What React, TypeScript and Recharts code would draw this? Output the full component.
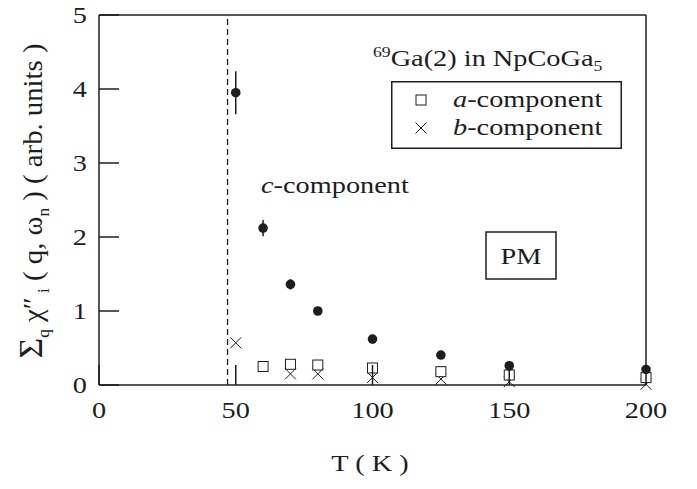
import React from 'react';
import {
  ScatterChart,
  Scatter,
  XAxis,
  YAxis,
  ErrorBar,
  ReferenceLine,
  Legend,
} from 'recharts';

// temperatures (K) and summed dynamical susceptibility per component
const cTemps = [50, 60, 70, 80, 100, 125, 150, 200];
const cValues = [3.95, 2.12, 1.36, 1.0, 0.62, 0.405, 0.26, 0.21];
const cErrors = [0.29, 0.11, 0.07, 0.04, 0.03, 0.02, 0.02, 0.02];

const aTemps = [60, 70, 80, 100, 125, 150, 200];
const aValues = [0.25, 0.28, 0.27, 0.23, 0.18, 0.135, 0.1];

const bTemps = [50, 70, 80, 100, 125, 150, 200];
const bValues = [0.57, 0.15, 0.15, 0.1, 0.08, 0.045, 0.01];

const xTicks = [0, 50, 100, 150, 200];
const yTicks = [0, 1, 2, 3, 4, 5];
const transitionT = 47;

const W = 697;
const H = 489;
const FONT = '"Liberation Serif", "Times New Roman", serif';
const INK = '#1e1e1e';
const STRETCH = 1.18;

const cData = cTemps.map((t, i) => ({ T: t, v: cValues[i], err: cErrors[i] }));
const aData = aTemps.map((t, i) => ({ T: t, v: aValues[i] }));
const bData = bTemps.map((t, i) => ({ T: t, v: bValues[i] }));

// text drawn slightly wide, like the rest of the figure
function SText({ x, y, anchor = 'start', size = 24, children }: any) {
  return (
    <text
      transform={`translate(${x} ${y}) scale(${STRETCH} 1)`}
      textAnchor={anchor}
      fontSize={size}
      fontFamily={FONT}
      fill={INK}
    >
      {children}
    </text>
  );
}

const Dot = (p: any) => <circle cx={p.cx} cy={p.cy} r={4.8} fill={INK} />;
const Square = (p: any) => (
  <rect x={p.cx - 5} y={p.cy - 5} width={10} height={10} fill="#fff" stroke={INK} strokeWidth={1} />
);
const Cross = (p: any) => (
  <path
    d={`M${p.cx - 5.5},${p.cy - 5.5}L${p.cx + 5.5},${p.cy + 5.5}M${p.cx - 5.5},${p.cy + 5.5}L${p.cx + 5.5},${p.cy - 5.5}`}
    stroke={INK}
    strokeWidth={1}
    fill="none"
  />
);

const TICK_LEN = 20;

const BottomTick = (p: any) => (
  <g>
    <line x1={p.x} y1={p.y} x2={p.x} y2={p.y - TICK_LEN} stroke={INK} strokeWidth={1.5} />
    <SText x={p.x} y={p.y + 33} anchor="middle">{p.payload.value}</SText>
  </g>
);
const TopTick = (p: any) => (
  <line x1={p.x} y1={p.y} x2={p.x} y2={p.y + TICK_LEN} stroke={INK} strokeWidth={1.5} />
);
const LeftTick = (p: any) => (
  <g>
    <line x1={p.x} y1={p.y} x2={p.x + TICK_LEN} y2={p.y} stroke={INK} strokeWidth={1.5} />
    <SText x={p.x - 12} y={p.y + 8} anchor="end">{p.payload.value}</SText>
  </g>
);
const RightTick = (p: any) => (
  <line x1={p.x} y1={p.y} x2={p.x - TICK_LEN} y2={p.y} stroke={INK} strokeWidth={1.5} />
);

function LegendBox({ payload }: any) {
  const rows = (payload || []).filter((e: any) => e.value !== 'c');
  return (
    <svg width={231} height={68} style={{ display: 'block' }}>
      <rect x={0.75} y={0.75} width={229.5} height={66.5} fill="#fff" stroke={INK} strokeWidth={1.5} />
      {rows.map((e: any, i: number) => {
        const cy = 19 + i * 28;
        const isA = e.value === 'a';
        return (
          <g key={e.value}>
            {isA ? <Square cx={30} cy={cy} /> : <Cross cx={30} cy={cy} />}
            <SText x={62} y={cy + 7}>
              <tspan fontStyle="italic">{e.value}</tspan>-component
            </SText>
          </g>
        );
      })}
    </svg>
  );
}

const axisLine = { stroke: INK, strokeWidth: 1.5 };

export default function App() {
  return (
    <div style={{ position: 'absolute', left: 0, top: 0, width: W, height: H, background: '#fff' }}>
      <ScatterChart width={W} height={H} margin={{ top: 14, right: 50, bottom: 103, left: 98 }}>
        <XAxis
          type="number"
          dataKey="T"
          domain={[0, 200]}
          ticks={xTicks}
          height={1}
          tickSize={0}
          tickMargin={0}
          tickLine={false}
          tick={BottomTick}
          axisLine={axisLine}
        />
        <XAxis
          xAxisId="top"
          orientation="top"
          type="number"
          dataKey="T"
          domain={[0, 200]}
          ticks={xTicks}
          height={1}
          tickSize={0}
          tickMargin={0}
          tickLine={false}
          tick={TopTick}
          axisLine={axisLine}
        />
        <YAxis
          type="number"
          dataKey="v"
          domain={[0, 5]}
          ticks={yTicks}
          width={1}
          tickSize={0}
          tickMargin={0}
          tickLine={false}
          tick={LeftTick}
          axisLine={axisLine}
        />
        <YAxis
          yAxisId="right"
          orientation="right"
          type="number"
          dataKey="v"
          domain={[0, 5]}
          ticks={yTicks}
          width={1}
          tickSize={0}
          tickMargin={0}
          tickLine={false}
          tick={RightTick}
          axisLine={axisLine}
        />
        <ReferenceLine x={transitionT} stroke={INK} strokeWidth={1.3} strokeDasharray="6 4" />
        <Scatter name="b" data={bData} shape={Cross} isAnimationActive={false} />
        <Scatter name="a" data={aData} shape={Square} isAnimationActive={false} />
        <Scatter name="c" data={cData} shape={Dot} legendType="none" isAnimationActive={false}>
          <ErrorBar dataKey="err" direction="y" width={0} stroke={INK} strokeWidth={1.5} />
        </Scatter>
        <Legend
          layout="horizontal"
          align="center"
          verticalAlign="middle"
          content={<LegendBox />}
          wrapperStyle={{ left: 391, top: 81, width: 231, height: 68 }}
        />
      </ScatterChart>

      <svg
        width={W}
        height={H}
        style={{ position: 'absolute', left: 0, top: 0, pointerEvents: 'none' }}
      >
        <SText x={373} y={66}>
          <tspan fontSize={15} dy={-9}>69</tspan>
          <tspan dy={9}>Ga(2) in NpCoGa</tspan>
          <tspan fontSize={15} dy={5}>5</tspan>
        </SText>
        <SText x={261} y={193}>
          <tspan fontStyle="italic">c</tspan>-component
        </SText>
        <rect x={486} y={232} width={70} height={47} fill="#fff" stroke={INK} strokeWidth={1.5} />
        <SText x={521} y={264} anchor="middle">PM</SText>
        <SText x={370} y={471} anchor="middle">T ( K )</SText>
        <text
          transform="translate(42 201) rotate(-90) scale(1.15 1.1)"
          textAnchor="middle"
          fontSize={25}
          fontFamily={FONT}
          fill={INK}
        >
          <tspan fontSize={31}>Σ</tspan>
          <tspan fontSize={15} dy={6}>q</tspan>
          <tspan dy={-6}> χ″</tspan>
          <tspan fontSize={15} dy={6}> i</tspan>
          <tspan dy={-6}> ( q, ω</tspan>
          <tspan fontSize={15} dy={6}>n</tspan>
          <tspan dy={-6}> ) ( arb. units )</tspan>
        </text>
      </svg>
    </div>
  );
}
